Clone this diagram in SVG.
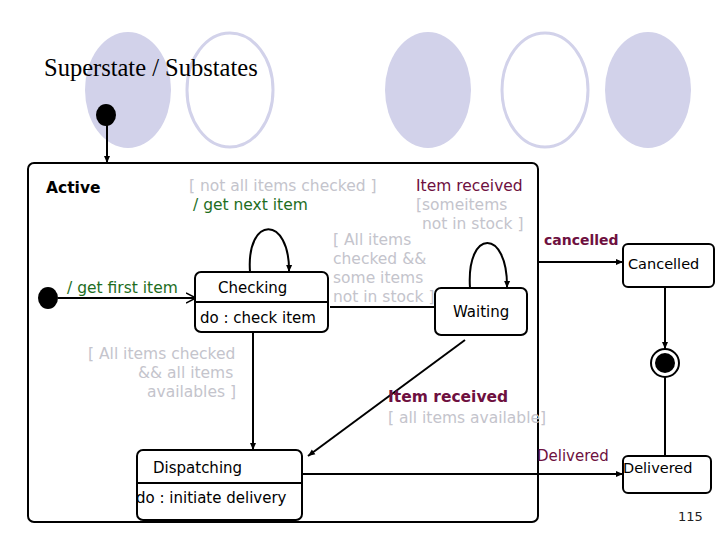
<svg xmlns="http://www.w3.org/2000/svg" width="720" height="540" viewBox="0 0 720 540">
<defs>
<style>
.t{font-family:"DejaVu Sans","Liberation Sans",sans-serif;font-size:15.5px}
.b{font-size:15px}
.g{fill:#c4c4cc}.gr{fill:#1e6e1e}.m{fill:#6e1040}
.ln{stroke:#000;stroke-width:2;fill:none}
.box{fill:#fff;stroke:#000;stroke-width:2}
</style>
<marker id="a" markerWidth="8" markerHeight="8" refX="7" refY="4" orient="auto" markerUnits="userSpaceOnUse"><path d="M0,1L7,4L0,7z" fill="#000"/></marker>
<marker id="o" markerWidth="12" markerHeight="12" refX="10" refY="6" orient="auto" markerUnits="userSpaceOnUse"><path d="M0,1L10,6L0,11" fill="none" stroke="#000" stroke-width="1.5"/></marker>
</defs>
<rect width="720" height="540" fill="#fff"/>
<g id="decor">
<ellipse cx="128" cy="90" rx="43" ry="58" fill="#d2d2ea"/>
<ellipse cx="230" cy="90" rx="43" ry="57" fill="none" stroke="#d2d2ea" stroke-width="3"/>
<ellipse cx="428" cy="90" rx="43" ry="58" fill="#d2d2ea"/>
<ellipse cx="545" cy="90" rx="43" ry="57" fill="none" stroke="#d2d2ea" stroke-width="3"/>
<ellipse cx="648" cy="90" rx="43" ry="58" fill="#d2d2ea"/>
<text x="44" y="76" font-family="Liberation Serif,serif" font-size="24.5">Superstate / Substates</text>
</g>
<g id="active"><rect x="28" y="163" width="510" height="359" rx="6" class="box" fill="none"/><text x="46" y="193" class="t" font-weight="bold">Active</text></g>
<g id="connectors">
<line x1="107" y1="125" x2="107" y2="163" class="ln" marker-end="url(#a)"/>
<line x1="58" y1="298" x2="196" y2="298" class="ln" marker-end="url(#o)"/>
<path d="M250,272 C246,215 290,215 289,272" class="ln" marker-end="url(#a)"/>
<line x1="330" y1="307" x2="435" y2="307" class="ln"/>
<path d="M470,288 C466,228 508,228 507,288" class="ln" marker-end="url(#a)"/>
<line x1="253" y1="332" x2="253" y2="450" class="ln" marker-end="url(#a)"/>
<line x1="465" y1="340" x2="308" y2="456" class="ln" marker-end="url(#a)"/>
<line x1="302" y1="474" x2="623" y2="474" class="ln" marker-end="url(#a)"/>
<line x1="538" y1="262" x2="623" y2="262" class="ln" marker-end="url(#a)"/>
<line x1="665" y1="287" x2="665" y2="349" class="ln" marker-end="url(#a)"/>
<line x1="665" y1="456" x2="665" y2="377" class="ln"/>
</g>
<g id="init1"><ellipse cx="106" cy="115" rx="10" ry="11" fill="#000"/></g>
<g id="init2"><ellipse cx="48" cy="298" rx="10" ry="11" fill="#000"/></g>
<g id="checking" class="t b"><rect x="195" y="272" width="133" height="60" rx="6" class="box"/><line x1="195" y1="302" x2="328" y2="302" stroke="#000" stroke-width="2"/><text x="218" y="293">Checking</text><text x="200" y="323">do : check item</text></g>
<g id="waiting" class="t b"><rect x="435" y="288" width="92" height="47" rx="6" class="box"/><text x="453" y="317">Waiting</text></g>
<g id="dispatching" class="t b"><rect x="137" y="450" width="165" height="70" rx="6" class="box"/><line x1="137" y1="483" x2="302" y2="483" stroke="#000" stroke-width="2"/><text x="153" y="473">Dispatching</text><text x="136" y="503">do : initiate delivery</text></g>
<g id="cancelled" class="t b"><rect x="623" y="244" width="91" height="43" rx="5" class="box"/><text x="628" y="269" font-size="14.5">Cancelled</text></g>
<g id="final"><circle cx="665" cy="363" r="14" fill="#fff" stroke="#000" stroke-width="2"/><circle cx="665" cy="363" r="10" fill="#000"/></g>
<g id="delivered" class="t b"><rect x="623" y="456" width="88" height="37" rx="5" class="box"/><text x="623" y="473" font-size="14.5">Delivered</text></g>
<g id="labels" class="t">
<text x="189" y="191" class="g">[ not all items checked ]</text>
<text x="193" y="210" class="gr">/ get next item</text>
<text x="416" y="191" class="m">Item received</text>
<text x="416" y="210" class="g">[someitems</text>
<text x="422" y="229" class="g">not in  stock ]</text>
<text x="333" y="245" class="g">[ All items</text>
<text x="333" y="264" class="g">checked &amp;&amp;</text>
<text x="333" y="283" class="g">some items</text>
<text x="333" y="302" class="g">not in stock ]</text>
<text x="67" y="293" class="gr">/ get first item</text>
<text x="88" y="359" class="g">[ All items checked</text>
<text x="138" y="378" class="g">&amp;&amp; all items</text>
<text x="147" y="397" class="g">availables ]</text>
<text x="388" y="402" class="m" font-weight="bold">Item received</text>
<text x="388" y="423" class="g">[ all items available]</text>
<text x="544" y="245" class="m" font-weight="bold" font-size="14">cancelled</text>
<text x="537" y="461" class="m" font-size="15">Delivered</text>
<text x="678" y="521" font-size="13" fill="#222">115</text>
</g>
</svg>
